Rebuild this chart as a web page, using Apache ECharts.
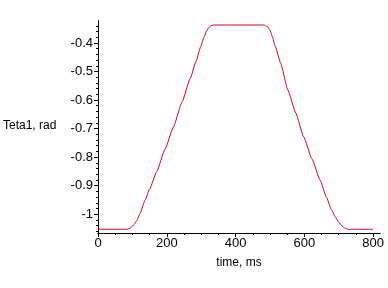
<!DOCTYPE html>
<html>
<head>
<meta charset="utf-8">
<script src="https://cdn.jsdelivr.net/npm/echarts@6/dist/echarts.min.js"></script>
<style>html,body{margin:0;padding:0;background:#fff;}#c{width:388px;height:288px;}</style>
</head>
<body>
<div id="c"></div>
<script>
// time, ms
var timeMs = [0, 85, 95, 105, 113, 122, 137, 150, 171, 195, 219, 245, 268, 285, 298, 308, 316, 324, 331, 338,
  482, 492, 500, 507, 515, 531, 552, 575, 598, 622, 646, 664, 678, 690, 700, 710, 719, 727, 800];
// Teta1, rad
var teta1 = [-1.053, -1.053, -1.048, -1.036, -1.022, -0.998, -0.951, -0.912, -0.850, -0.772, -0.695, -0.605, -0.525, -0.465, -0.415, -0.380, -0.357, -0.343, -0.338, -0.337,
  -0.337, -0.342, -0.355, -0.378, -0.410, -0.470, -0.565, -0.645, -0.729, -0.806, -0.881, -0.940, -0.982, -1.010, -1.028, -1.042, -1.050, -1.053, -1.053];
var yTicks = [-1, -0.9, -0.8, -0.7, -0.6, -0.5, -0.4];
var yMinorTicks = [-1.06, -1.04, -1.02, -0.98, -0.96, -0.94, -0.92, -0.88, -0.86, -0.84, -0.82, -0.78, -0.76, -0.74, -0.72,
  -0.68, -0.66, -0.64, -0.62, -0.58, -0.56, -0.54, -0.52, -0.48, -0.46, -0.44, -0.42, -0.38, -0.36, -0.34];
var xTicks = [0, 200, 400, 600, 800];
var xMinorTicks = [50, 100, 150, 250, 300, 350, 450, 500, 550, 650, 700, 750];

var pts = timeMs.map(function (t, i) { return [t, teta1[i]]; });
var font = 'Liberation Sans, Arial, sans-serif';
var chart = echarts.init(document.getElementById('c'), null, {renderer: 'canvas'});
var xBase = {
  type: 'value', min: 0, max: 820, gridIndex: 0, position: 'bottom',
  axisLine: {show: true, onZero: false, lineStyle: {color: '#000', width: 1}},
  splitLine: {show: false}
};
var yBase = {
  type: 'value', min: -1.066, max: -0.323, gridIndex: 0, position: 'left',
  axisLine: {show: true, onZero: false, lineStyle: {color: '#000', width: 1}},
  splitLine: {show: false}
};
chart.setOption({
  animation: false,
  backgroundColor: '#fff',
  grid: {left: 98, top: 21, right: 8, bottom: 55, containLabel: false},
  xAxis: [
    Object.assign({}, xBase, {
      name: 'time, ms', nameLocation: 'middle', nameGap: 24,
      nameTextStyle: {color: '#000', fontSize: 12, fontFamily: font},
      axisTick: {show: true, inside: false, length: 4, customValues: xTicks, lineStyle: {color: '#000'}},
      axisLabel: {show: true, customValues: xTicks, color: '#000', fontSize: 13, fontFamily: font, margin: 4}
    }),
    Object.assign({}, xBase, {
      offset: 0,
      axisTick: {show: true, inside: false, length: 2, customValues: xMinorTicks, lineStyle: {color: '#000'}},
      axisLabel: {show: false}
    })
  ],
  yAxis: [
    Object.assign({}, yBase, {
      axisTick: {show: true, inside: false, length: 4, customValues: yTicks, lineStyle: {color: '#000'}},
      axisLabel: {show: true, customValues: yTicks, color: '#000', fontSize: 13, fontFamily: font, margin: 5,
        formatter: function (v) { return String(Math.round(v * 10) / 10); }}
    }),
    Object.assign({}, yBase, {
      offset: 0,
      axisTick: {show: true, inside: false, length: 2, customValues: yMinorTicks, lineStyle: {color: '#000'}},
      axisLabel: {show: false}
    })
  ],
  graphic: [{
    type: 'text', left: 3, top: 120,
    style: {text: 'Teta1, rad', fill: '#000', font: '12px ' + font}
  }],
  series: [{
    type: 'line', data: pts, xAxisIndex: 0, yAxisIndex: 0,
    showSymbol: false, smooth: 0.15, smoothMonotone: 'x',
    lineStyle: {color: '#d40028', width: 1}
  }]
});
</script>
</body>
</html>
